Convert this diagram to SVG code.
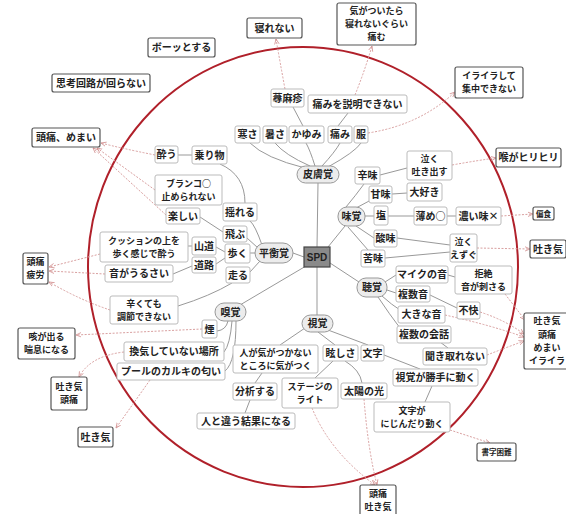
<svg xmlns="http://www.w3.org/2000/svg" width="566" height="514" viewBox="0 0 566 514">
<defs>
<style>
text{font-family:"Noto Sans CJK JP","Noto Sans",sans-serif;font-size:10px;font-weight:700;fill:#222;text-anchor:middle}
.m{font-size:9px}
.s{font-size:7.5px}
.o{fill:#fff;stroke:#555;stroke-width:1.2}
.i{fill:#fff;stroke:#bbb;stroke-width:1}
.p{fill:#ececec;stroke:#999;stroke-width:1}
.c{fill:none;stroke:#999;stroke-width:1}
.r{fill:none;stroke:#d9a0a0;stroke-width:1;stroke-dasharray:2 1.5;marker-end:url(#a)}
</style>
<marker id="a" viewBox="0 0 8 8" refX="7" refY="4" markerWidth="6" markerHeight="6" orient="auto">
<path d="M0,1 L7,4 L0,7" fill="none" stroke="#d08a8a" stroke-width="1"/>
</marker>
</defs>
<rect width="566" height="514" fill="#fff"/>
<ellipse cx="303" cy="267" rx="215" ry="220" fill="none" stroke="#b0202a" stroke-width="2"/>
<g id="connectors">
<path class="c" d="M317,247 L318,183"/>
<path class="c" d="M328,247 L345,226"/>
<path class="c" d="M330,263 L362,284"/>
<path class="c" d="M317,267 L317,315"/>
<path class="c" d="M304,257 L293,253"/>
<path class="c" d="M306,266 L240,305"/>
<path class="c" d="M305,168 Q265,158 250,143"/>
<path class="c" d="M310,166 Q285,155 275,143"/>
<path class="c" d="M315,166 Q310,150 306,143"/>
<path class="c" d="M322,166 Q335,152 340,143"/>
<path class="c" d="M328,167 Q355,152 361,143"/>
<path class="c" d="M293,107 L303,126"/>
<path class="c" d="M348,113 L338,126"/>
<path class="c" d="M346,207 Q356,195 364,184"/>
<path class="c" d="M356,208 L371,200"/>
<path class="c" d="M365,216 L374,216"/>
<path class="c" d="M356,226 L377,240"/>
<path class="c" d="M348,227 L368,250"/>
<path class="c" d="M380,175 L407,168"/>
<path class="c" d="M392,194 L407,193"/>
<path class="c" d="M388,216 L414,216"/>
<path class="c" d="M447,216 L456,216"/>
<path class="c" d="M397,238 L450,245"/>
<path class="c" d="M385,258 L450,252"/>
<path class="c" d="M385,282 L396,275"/>
<path class="c" d="M387,290 L396,293"/>
<path class="c" d="M382,296 Q392,305 400,310"/>
<path class="c" d="M378,297 Q390,315 400,328"/>
<path class="c" d="M448,275 L455,277"/>
<path class="c" d="M430,295 L457,308"/>
<path class="c" d="M440,342 L448,348"/>
<path class="c" d="M305,328 L280,345"/>
<path class="c" d="M318,332 L335,345"/>
<path class="c" d="M328,330 L368,345"/>
<path class="c" d="M262,373 L255,383"/>
<path class="c" d="M250,400 L245,413"/>
<path class="c" d="M333,361 L315,378"/>
<path class="c" d="M345,361 Q360,370 362,383"/>
<path class="c" d="M384,355 L420,369"/>
<path class="c" d="M432,386 L425,402"/>
<path class="c" d="M228,321 Q226,330 217,331"/>
<path class="c" d="M232,321 Q230,345 224,352"/>
<path class="c" d="M236,321 Q236,362 225,371"/>
<path class="c" d="M262,245 Q255,225 250,221"/>
<path class="c" d="M258,248 L247,238"/>
<path class="c" d="M255,253 L250,253"/>
<path class="c" d="M260,261 L250,272"/>
<path class="c" d="M245,203 Q245,175 220,164"/>
<path class="c" d="M178,155 L192,155"/>
<path class="c" d="M200,217 L223,232"/>
<path class="c" d="M216,247 L225,252"/>
<path class="c" d="M216,264 L225,258"/>
<path class="c" d="M188,246 L192,246"/>
<path class="c" d="M173,274 L192,266"/>
<path class="c" d="M232,283 Q210,296 178,306"/>
<path class="r" d="M368,133 Q420,125 455,92"/>
<path class="r" d="M285,89 Q280,62 276,39"/>
<path class="r" d="M355,95 Q365,70 372,46"/>
<path class="r" d="M452,165 Q480,160 496,158"/>
<path class="r" d="M501,216 L533,214"/>
<path class="r" d="M477,248 L530,249"/>
<path class="r" d="M505,294 L525,320"/>
<path class="r" d="M480,312 Q505,320 524,334"/>
<path class="r" d="M445,315 Q490,325 524,337"/>
<path class="r" d="M487,355 Q505,348 524,341"/>
<path class="r" d="M450,430 L490,443"/>
<path class="r" d="M312,408 Q330,452 375,485"/>
<path class="r" d="M364,399 Q368,450 377,485"/>
<path class="r" d="M150,380 L116,428"/>
<path class="r" d="M124,352 Q90,356 79,377"/>
<path class="r" d="M202,329 L76,335"/>
<path class="r" d="M110,310 Q80,300 49,282"/>
<path class="r" d="M100,254 L49,267"/>
<path class="r" d="M105,274 L49,271"/>
<path class="r" d="M155,155 Q120,148 101,143"/>
<path class="r" d="M155,190 L97,148"/>
<path class="r" d="M166,215 L93,148"/>
</g>
<g id="n-nerenai"><rect class="o" x="247" y="18" width="55" height="20" rx="2"/><text x="274.5" y="31.5">寝れない</text></g>
<g id="n-kigatsuitara"><rect class="o" x="337" y="3" width="79" height="42" rx="2"/><text class="m" x="376.5" y="14"><tspan x="376.5">気がついたら</tspan><tspan x="376.5" dy="13.2">寝れないぐらい</tspan><tspan x="376.5" dy="13.2">痛む</tspan></text></g>
<g id="n-bootto"><rect class="o" x="148" y="38" width="67" height="19" rx="2"/><text x="181.5" y="51">ボーッとする</text></g>
<g id="n-shikou"><rect class="o" x="52" y="74" width="98" height="18" rx="2"/><text x="101" y="86.5">思考回路が回らない</text></g>
<g id="n-zutsumemai"><rect class="o" x="32" y="128" width="68" height="19" rx="2"/><text x="66" y="141">頭痛、めまい</text></g>
<g id="n-iraira"><rect class="o" x="455" y="67" width="68" height="31" rx="2"/><text class="m" x="489" y="79.1"><tspan x="489">イライラして</tspan><tspan x="489" dy="13.2">集中できない</tspan></text></g>
<g id="n-nodo"><rect class="o" x="496" y="148" width="65" height="19" rx="2"/><text x="528.5" y="161">喉がヒリヒリ</text></g>
<g id="n-henshoku"><rect class="o" x="533" y="207" width="21" height="13" rx="2"/><text class="s" x="543.5" y="216.5">偏食</text></g>
<g id="n-hakike1"><rect class="o" x="530" y="240" width="36" height="18" rx="2"/><text x="548" y="252.5">吐き気</text></g>
<g id="n-hakike4"><rect class="o" x="524" y="313" width="46" height="56" rx="2"/><text class="m" x="547" y="324.4"><tspan x="547">吐き気</tspan><tspan x="547" dy="13.2">頭痛</tspan><tspan x="547" dy="13.2">めまい</tspan><tspan x="547" dy="13.2">イライラ</tspan></text></g>
<g id="n-shoji"><rect class="o" x="477" y="443" width="39" height="18" rx="2"/><text class="s" x="496.5" y="455">書字困難</text></g>
<g id="n-zutsuhakike"><rect class="o" x="360" y="485" width="36" height="32" rx="2"/><text class="m" x="378" y="497.1"><tspan x="378">頭痛</tspan><tspan x="378" dy="13.2">吐き気</tspan></text></g>
<g id="n-hakike2"><rect class="o" x="78" y="427" width="35" height="20" rx="2"/><text x="95.5" y="440.5">吐き気</text></g>
<g id="n-hakikezutsu"><rect class="o" x="51" y="377" width="36" height="33" rx="2"/><text class="m" x="69" y="390.1"><tspan x="69">吐き気</tspan><tspan x="69" dy="13.2">頭痛</tspan></text></g>
<g id="n-seki"><rect class="o" x="18" y="328" width="57" height="31" rx="2"/><text class="m" x="46.5" y="340.1"><tspan x="46.5">咳が出る</tspan><tspan x="46.5" dy="13.2">喘息になる</tspan></text></g>
<g id="n-zutsuhirou"><rect class="o" x="23" y="253" width="25" height="31" rx="2"/><text class="m" x="35.5" y="265.1"><tspan x="35.5">頭痛</tspan><tspan x="35.5" dy="13.2">疲労</tspan></text></g>
<g id="n-hifukaku"><rect class="p" x="297" y="166" width="42" height="17" rx="8.5"/><text x="318" y="178">皮膚覚</text></g>
<g id="n-samusa"><rect class="i" x="235" y="126" width="25" height="17" rx="2"/><text x="247.5" y="138">寒さ</text></g>
<g id="n-atsusa"><rect class="i" x="263" y="126" width="24" height="17" rx="2"/><text x="275" y="138">暑さ</text></g>
<g id="n-kayumi"><rect class="i" x="289" y="126" width="35" height="17" rx="2"/><text x="306.5" y="138">かゆみ</text></g>
<g id="n-itami"><rect class="i" x="328" y="126" width="24" height="17" rx="2"/><text x="340" y="138">痛み</text></g>
<g id="n-fuku"><rect class="i" x="354" y="126" width="14" height="17" rx="2"/><text x="361" y="138">服</text></g>
<g id="n-jinmashin"><rect class="i" x="271" y="89" width="33" height="18" rx="2"/><text x="287.5" y="101.5">蕁麻疹</text></g>
<g id="n-setsumei"><rect class="i" x="308" y="95" width="99" height="18" rx="2"/><text x="357.5" y="107.5">痛みを説明できない</text></g>
<g id="n-mikaku"><rect class="p" x="338" y="207" width="27" height="19" rx="9"/><text x="351.5" y="220">味覚</text></g>
<g id="n-karami"><rect class="i" x="355" y="167" width="25" height="17" rx="2"/><text x="367.5" y="179">辛味</text></g>
<g id="n-haki"><rect class="i" x="407" y="151" width="45" height="29" rx="2"/><text class="m" x="429.5" y="162.1"><tspan x="429.5">泣く</tspan><tspan x="429.5" dy="13.2">吐き出す</tspan></text></g>
<g id="n-amami"><rect class="i" x="369" y="186" width="23" height="17" rx="2"/><text x="380.5" y="198">甘味</text></g>
<g id="n-daisuki"><rect class="i" x="407" y="183" width="35" height="18" rx="2"/><text x="424.5" y="195.5">大好き</text></g>
<g id="n-shio"><rect class="i" x="374" y="206" width="14" height="19" rx="2"/><text x="381" y="219">塩</text></g>
<g id="n-usume"><rect class="i" x="414" y="207" width="33" height="18" rx="2"/><text x="430.5" y="219.5">薄め○</text></g>
<g id="n-koi"><rect class="i" x="456" y="207" width="45" height="18" rx="2"/><text x="478.5" y="219.5">濃い味×</text></g>
<g id="n-sanmi"><rect class="i" x="374" y="230" width="23" height="17" rx="2"/><text x="385.5" y="242">酸味</text></g>
<g id="n-nigami"><rect class="i" x="361" y="250" width="24" height="17" rx="2"/><text x="373" y="262">苦味</text></g>
<g id="n-ezugu"><rect class="i" x="450" y="234" width="27" height="28" rx="2"/><text class="m" x="463.5" y="244.6"><tspan x="463.5">泣く</tspan><tspan x="463.5" dy="13.2">えずぐ</tspan></text></g>
<g id="n-spd"><rect x="304" y="247" width="26" height="20" fill="#8a8a8a" stroke="#444" stroke-width="1.2"/><text x="317" y="261" style="font-family:'Liberation Sans',sans-serif;font-size:10px">SPD</text></g>
<g id="n-choukaku"><rect class="p" x="357" y="278" width="30" height="19" rx="9"/><text x="372" y="291">聴覚</text></g>
<g id="n-maiku"><rect class="i" x="396" y="266" width="52" height="17" rx="2"/><text x="422" y="278">マイクの音</text></g>
<g id="n-kyozetsu"><rect class="i" x="455" y="266" width="57" height="28" rx="2"/><text class="m" x="483.5" y="276.6"><tspan x="483.5">拒絶</tspan><tspan x="483.5" dy="13.2">音が刺さる</tspan></text></g>
<g id="n-fukusuu"><rect class="i" x="396" y="286" width="34" height="16" rx="2"/><text x="413" y="297.5">複数音</text></g>
<g id="n-fukai"><rect class="i" x="457" y="302" width="23" height="17" rx="2"/><text x="468.5" y="314">不快</text></g>
<g id="n-ookina"><rect class="i" x="398" y="306" width="47" height="17" rx="2"/><text x="421.5" y="318">大きな音</text></g>
<g id="n-kaiwa"><rect class="i" x="397" y="326" width="54" height="17" rx="2"/><text x="424" y="338">複数の会話</text></g>
<g id="n-kikitore"><rect class="i" x="423" y="348" width="64" height="17" rx="2"/><text x="455" y="360">聞き取れない</text></g>
<g id="n-shikaku"><rect class="p" x="302" y="315" width="31" height="17" rx="8.5"/><text x="317.5" y="327">視覚</text></g>
<g id="n-hitogaki"><rect class="i" x="233" y="345" width="85" height="28" rx="2"/><text class="m" x="275.5" y="355.6"><tspan x="275.5">人が気がつかない</tspan><tspan x="275.5" dy="13.2">ところに気がつく</tspan></text></g>
<g id="n-mabushisa"><rect class="i" x="323" y="345" width="35" height="16" rx="2"/><text x="340.5" y="356.5">眩しさ</text></g>
<g id="n-moji"><rect class="i" x="361" y="345" width="23" height="16" rx="2"/><text x="372.5" y="356.5">文字</text></g>
<g id="n-bunseki"><rect class="i" x="233" y="383" width="44" height="17" rx="2"/><text x="255" y="395">分析する</text></g>
<g id="n-stage"><rect class="i" x="282" y="378" width="56" height="30" rx="2"/><text class="m" x="310" y="389.6"><tspan x="310">ステージの</tspan><tspan x="310" dy="13.2">ライト</tspan></text></g>
<g id="n-taiyou"><rect class="i" x="341" y="383" width="46" height="16" rx="2"/><text x="364" y="394.5">太陽の光</text></g>
<g id="n-hitotochigau"><rect class="i" x="197" y="413" width="98" height="16" rx="2"/><text x="246" y="424.5">人と違う結果になる</text></g>
<g id="n-katteni"><rect class="i" x="393" y="369" width="85" height="17" rx="2"/><text x="435.5" y="381">視覚が勝手に動く</text></g>
<g id="n-mojiga"><rect class="i" x="374" y="402" width="76" height="30" rx="2"/><text class="m" x="412" y="413.6"><tspan x="412">文字が</tspan><tspan x="412" dy="13.2">にじんだり動く</tspan></text></g>
<g id="n-kyuukaku"><rect class="p" x="215" y="303" width="31" height="18" rx="9"/><text x="230.5" y="315.5">嗅覚</text></g>
<g id="n-kemuri"><rect class="i" x="202" y="320" width="15" height="18" rx="2"/><text x="209.5" y="332.5">煙</text></g>
<g id="n-kanki"><rect class="i" x="124" y="342" width="100" height="19" rx="2"/><text x="174" y="355">換気していない場所</text></g>
<g id="n-pool"><rect class="i" x="117" y="363" width="108" height="17" rx="2"/><text x="171" y="375">プールのカルキの匂い</text></g>
<g id="n-tsurakute"><rect class="i" x="110" y="296" width="68" height="28" rx="2"/><text class="m" x="144" y="306.6"><tspan x="144">辛くても</tspan><tspan x="144" dy="13.2">調節できない</tspan></text></g>
<g id="n-heikou"><rect class="p" x="255" y="243" width="38" height="20" rx="10"/><text x="274" y="256.5">平衡覚</text></g>
<g id="n-yureru"><rect class="i" x="223" y="203" width="34" height="18" rx="2"/><text x="240" y="215.5">揺れる</text></g>
<g id="n-tobu"><rect class="i" x="223" y="226" width="24" height="16" rx="2"/><text x="235" y="237.5">飛ぶ</text></g>
<g id="n-aruku"><rect class="i" x="225" y="244" width="25" height="19" rx="2"/><text x="237.5" y="257">歩く</text></g>
<g id="n-hashiru"><rect class="i" x="226" y="267" width="24" height="16" rx="2"/><text x="238" y="278.5">走る</text></g>
<g id="n-yamamichi"><rect class="i" x="192" y="237" width="24" height="18" rx="2"/><text x="204" y="249.5">山道</text></g>
<g id="n-douro"><rect class="i" x="192" y="257" width="24" height="16" rx="2"/><text x="204" y="268.5">道路</text></g>
<g id="n-cushion"><rect class="i" x="100" y="232" width="88" height="30" rx="2"/><text class="m" x="144" y="243.6"><tspan x="144">クッションの上を</tspan><tspan x="144" dy="13.2">歩く感じで酔う</tspan></text></g>
<g id="n-oto"><rect class="i" x="105" y="265" width="68" height="17" rx="2"/><text x="139" y="277">音がうるさい</text></g>
<g id="n-tanoshii"><rect class="i" x="166" y="208" width="34" height="16" rx="2"/><text x="183" y="219.5">楽しい</text></g>
<g id="n-buranko"><rect class="i" x="155" y="175" width="67" height="30" rx="2"/><text class="m" x="188.5" y="186.6"><tspan x="188.5">ブランコ○</tspan><tspan x="188.5" dy="13.2">止められない</tspan></text></g>
<g id="n-you"><rect class="i" x="155" y="146" width="23" height="17" rx="2"/><text x="166.5" y="158">酔う</text></g>
<g id="n-norimono"><rect class="i" x="192" y="146" width="35" height="18" rx="2"/><text x="209.5" y="158.5">乗り物</text></g>
</svg>
